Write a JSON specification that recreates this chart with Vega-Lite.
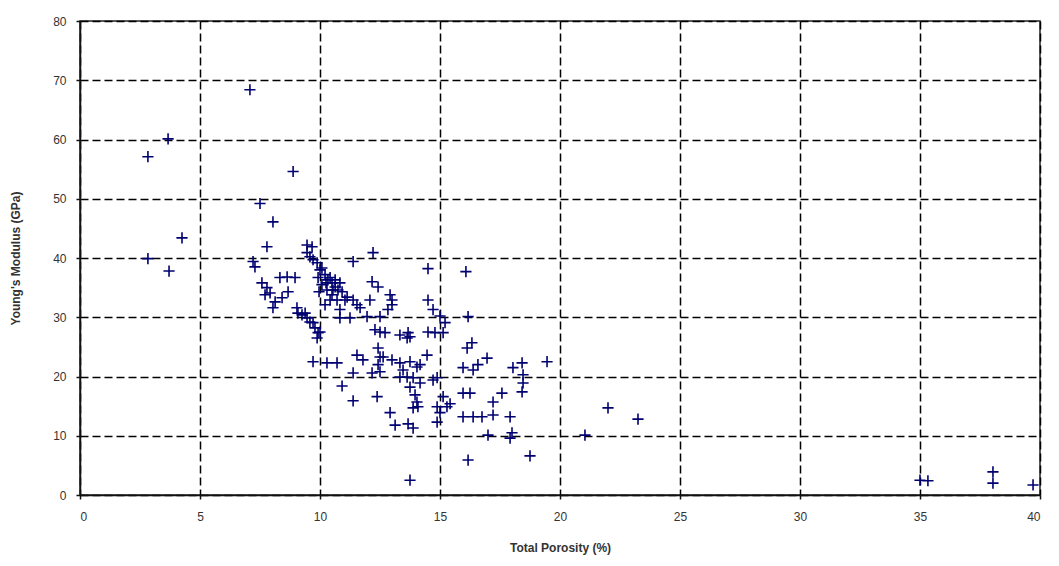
{
  "$schema": "https://vega.github.io/schema/vega-lite/v6.json",
  "width": 960,
  "height": 474,
  "autosize": "none",
  "padding": {"left": 80, "top": 21, "right": 19, "bottom": 71},
  "background": "white",
  "view": {"stroke": "#222", "strokeWidth": 1.5},
  "data": {"values": [
    {"porosity": 2.83, "modulus": 57.1}, {"porosity": 3.67, "modulus": 60.1}, {"porosity": 2.83, "modulus": 39.9},
    {"porosity": 3.71, "modulus": 37.8}, {"porosity": 4.25, "modulus": 43.4}, {"porosity": 7.08, "modulus": 68.4},
    {"porosity": 8.88, "modulus": 54.6}, {"porosity": 7.5, "modulus": 49.2}, {"porosity": 8.04, "modulus": 46.1},
    {"porosity": 7.79, "modulus": 41.9}, {"porosity": 7.29, "modulus": 38.5}, {"porosity": 7.58, "modulus": 35.8},
    {"porosity": 7.79, "modulus": 35.0}, {"porosity": 7.92, "modulus": 34.1}, {"porosity": 8.13, "modulus": 32.6},
    {"porosity": 8.04, "modulus": 31.6}, {"porosity": 8.33, "modulus": 36.7}, {"porosity": 8.63, "modulus": 36.8},
    {"porosity": 8.96, "modulus": 36.7}, {"porosity": 8.67, "modulus": 34.3}, {"porosity": 8.42, "modulus": 33.3},
    {"porosity": 9.04, "modulus": 31.6}, {"porosity": 9.08, "modulus": 30.7}, {"porosity": 9.67, "modulus": 41.9},
    {"porosity": 9.46, "modulus": 40.9}, {"porosity": 9.58, "modulus": 40.2}, {"porosity": 9.71, "modulus": 39.7},
    {"porosity": 9.88, "modulus": 39.2}, {"porosity": 10.0, "modulus": 38.0}, {"porosity": 10.21, "modulus": 37.2},
    {"porosity": 10.33, "modulus": 36.3}, {"porosity": 10.5, "modulus": 35.8}, {"porosity": 10.63, "modulus": 35.1},
    {"porosity": 10.75, "modulus": 34.6}, {"porosity": 10.08, "modulus": 35.5}, {"porosity": 10.29, "modulus": 34.6},
    {"porosity": 10.5, "modulus": 33.8}, {"porosity": 10.71, "modulus": 32.9}, {"porosity": 10.42, "modulus": 32.9},
    {"porosity": 10.21, "modulus": 32.1}, {"porosity": 10.83, "modulus": 35.8}, {"porosity": 9.92, "modulus": 36.7},
    {"porosity": 9.38, "modulus": 30.7}, {"porosity": 9.58, "modulus": 29.2}, {"porosity": 9.79, "modulus": 28.2},
    {"porosity": 9.92, "modulus": 27.4}, {"porosity": 9.88, "modulus": 26.5}, {"porosity": 11.38, "modulus": 39.4},
    {"porosity": 12.21, "modulus": 40.9}, {"porosity": 11.13, "modulus": 33.4}, {"porosity": 11.38, "modulus": 32.9},
    {"porosity": 11.54, "modulus": 32.1}, {"porosity": 11.67, "modulus": 31.6}, {"porosity": 12.17, "modulus": 36.0},
    {"porosity": 12.42, "modulus": 35.1}, {"porosity": 12.08, "modulus": 32.9}, {"porosity": 12.92, "modulus": 33.8},
    {"porosity": 13.0, "modulus": 32.9}, {"porosity": 13.0, "modulus": 32.1}, {"porosity": 10.83, "modulus": 29.9},
    {"porosity": 11.25, "modulus": 29.9}, {"porosity": 11.96, "modulus": 30.1}, {"porosity": 12.5, "modulus": 30.1},
    {"porosity": 12.5, "modulus": 27.5}, {"porosity": 12.71, "modulus": 27.4}, {"porosity": 13.33, "modulus": 27.0},
    {"porosity": 13.75, "modulus": 26.7}, {"porosity": 14.5, "modulus": 27.5}, {"porosity": 14.79, "modulus": 27.4},
    {"porosity": 15.13, "modulus": 27.4}, {"porosity": 9.71, "modulus": 22.5}, {"porosity": 10.29, "modulus": 22.3},
    {"porosity": 10.71, "modulus": 22.3}, {"porosity": 11.54, "modulus": 23.6}, {"porosity": 11.79, "modulus": 22.8},
    {"porosity": 11.38, "modulus": 20.6}, {"porosity": 10.92, "modulus": 18.4}, {"porosity": 11.38, "modulus": 15.9},
    {"porosity": 12.38, "modulus": 16.6}, {"porosity": 12.42, "modulus": 24.8}, {"porosity": 12.5, "modulus": 23.3},
    {"porosity": 12.42, "modulus": 22.0}, {"porosity": 12.5, "modulus": 20.8}, {"porosity": 12.17, "modulus": 20.6},
    {"porosity": 12.92, "modulus": 13.9}, {"porosity": 13.13, "modulus": 11.8}, {"porosity": 13.88, "modulus": 11.3},
    {"porosity": 13.75, "modulus": 2.5}, {"porosity": 14.5, "modulus": 38.2}, {"porosity": 16.08, "modulus": 37.7},
    {"porosity": 14.5, "modulus": 32.9}, {"porosity": 14.71, "modulus": 31.3}, {"porosity": 15.0, "modulus": 30.2},
    {"porosity": 15.21, "modulus": 29.1}, {"porosity": 16.17, "modulus": 30.1}, {"porosity": 16.33, "modulus": 25.7},
    {"porosity": 16.13, "modulus": 24.8}, {"porosity": 16.96, "modulus": 23.1}, {"porosity": 15.96, "modulus": 21.5},
    {"porosity": 16.38, "modulus": 21.1}, {"porosity": 16.58, "modulus": 22.0}, {"porosity": 18.04, "modulus": 21.5},
    {"porosity": 18.42, "modulus": 22.3}, {"porosity": 18.46, "modulus": 20.3}, {"porosity": 18.46, "modulus": 18.9},
    {"porosity": 18.42, "modulus": 17.4}, {"porosity": 19.46, "modulus": 22.5}, {"porosity": 15.96, "modulus": 17.2},
    {"porosity": 16.25, "modulus": 17.2}, {"porosity": 17.21, "modulus": 15.7}, {"porosity": 17.58, "modulus": 17.2},
    {"porosity": 15.96, "modulus": 13.2}, {"porosity": 16.38, "modulus": 13.2}, {"porosity": 16.75, "modulus": 13.2},
    {"porosity": 17.21, "modulus": 13.5}, {"porosity": 17.92, "modulus": 13.2}, {"porosity": 17.0, "modulus": 10.1},
    {"porosity": 17.92, "modulus": 9.6}, {"porosity": 18.0, "modulus": 10.5}, {"porosity": 16.17, "modulus": 5.9},
    {"porosity": 18.75, "modulus": 6.6}, {"porosity": 22.0, "modulus": 14.7}, {"porosity": 23.25, "modulus": 12.8},
    {"porosity": 21.04, "modulus": 10.1}, {"porosity": 35.0, "modulus": 2.5}, {"porosity": 35.33, "modulus": 2.4},
    {"porosity": 38.04, "modulus": 3.9}, {"porosity": 38.04, "modulus": 2.0}, {"porosity": 39.71, "modulus": 1.7},
    {"porosity": 12.63, "modulus": 23.3}, {"porosity": 13.0, "modulus": 22.8}, {"porosity": 13.33, "modulus": 22.3},
    {"porosity": 13.75, "modulus": 22.5}, {"porosity": 14.04, "modulus": 21.6}, {"porosity": 14.46, "modulus": 23.6},
    {"porosity": 14.17, "modulus": 22.0}, {"porosity": 13.46, "modulus": 21.1}, {"porosity": 13.63, "modulus": 19.9},
    {"porosity": 13.88, "modulus": 19.8}, {"porosity": 14.17, "modulus": 18.9}, {"porosity": 14.71, "modulus": 19.4},
    {"porosity": 14.88, "modulus": 19.8}, {"porosity": 13.75, "modulus": 18.2}, {"porosity": 13.96, "modulus": 16.9},
    {"porosity": 14.04, "modulus": 15.7}, {"porosity": 13.88, "modulus": 14.7}, {"porosity": 15.13, "modulus": 16.6},
    {"porosity": 15.29, "modulus": 14.9}, {"porosity": 15.0, "modulus": 13.9}, {"porosity": 14.88, "modulus": 14.9},
    {"porosity": 15.42, "modulus": 15.4}, {"porosity": 14.88, "modulus": 12.3}, {"porosity": 14.08, "modulus": 14.9},
    {"porosity": 13.67, "modulus": 12.0}, {"porosity": 13.33, "modulus": 19.9}, {"porosity": 13.63, "modulus": 26.5},
    {"porosity": 12.83, "modulus": 31.3}, {"porosity": 12.29, "modulus": 27.9}, {"porosity": 13.67, "modulus": 27.4},
    {"porosity": 9.46, "modulus": 42.2}, {"porosity": 10.83, "modulus": 31.3}, {"porosity": 9.46, "modulus": 29.9},
    {"porosity": 9.71, "modulus": 29.1}, {"porosity": 10.08, "modulus": 38.3}, {"porosity": 10.42, "modulus": 36.7},
    {"porosity": 10.63, "modulus": 36.3}, {"porosity": 10.25, "modulus": 35.8}, {"porosity": 10.54, "modulus": 34.6},
    {"porosity": 9.96, "modulus": 34.3}, {"porosity": 10.92, "modulus": 34.3}, {"porosity": 11.04, "modulus": 32.9},
    {"porosity": 10.0, "modulus": 27.5}, {"porosity": 9.25, "modulus": 30.4}, {"porosity": 7.71, "modulus": 33.8},
    {"porosity": 7.21, "modulus": 39.4}
  ]},
  "mark": {
    "type": "point",
    "shape": "M-1,0H1M0,-1V1",
    "filled": false,
    "size": 125,
    "stroke": "#000070",
    "strokeWidth": 1.6,
    "opacity": 1
  },
  "encoding": {
    "x": {
      "field": "porosity",
      "type": "quantitative",
      "scale": {"domain": [0, 40], "nice": false, "zero": true},
      "axis": {
        "values": [0, 5, 10, 15, 20, 25, 30, 35, 40],
        "title": "Total Porosity (%)",
        "titleFont": "Liberation Sans",
        "titleFontSize": 12,
        "titleFontWeight": "bold",
        "titleColor": "#333",
        "titlePadding": 20,
        "labelFont": "Liberation Sans",
        "labelFontSize": 12,
        "labelColor": "#333",
        "labelPadding": 12,
        "domainColor": "#111",
        "domainWidth": 1.5,
        "tickColor": "#111",
        "tickSize": 4,
        "tickWidth": 1.5,
        "grid": true,
        "gridColor": "#000",
        "gridDash": [8, 4],
        "gridWidth": 1.5,
        "gridOpacity": 1
      }
    },
    "y": {
      "field": "modulus",
      "type": "quantitative",
      "scale": {"domain": [0, 80], "nice": false},
      "axis": {
        "values": [0, 10, 20, 30, 40, 50, 60, 70, 80],
        "title": "Young's Modulus (GPa)",
        "titleFont": "Liberation Sans",
        "titleFontSize": 12,
        "titleFontWeight": "bold",
        "titleColor": "#333",
        "titlePadding": 30,
        "labelFont": "Liberation Sans",
        "labelFontSize": 12,
        "labelColor": "#333",
        "labelPadding": 10,
        "domainColor": "#111",
        "domainWidth": 1.5,
        "tickColor": "#111",
        "tickSize": 4,
        "tickWidth": 1.5,
        "grid": true,
        "gridColor": "#000",
        "gridDash": [8, 4],
        "gridWidth": 1.5,
        "gridOpacity": 1
      }
    }
  }
}
